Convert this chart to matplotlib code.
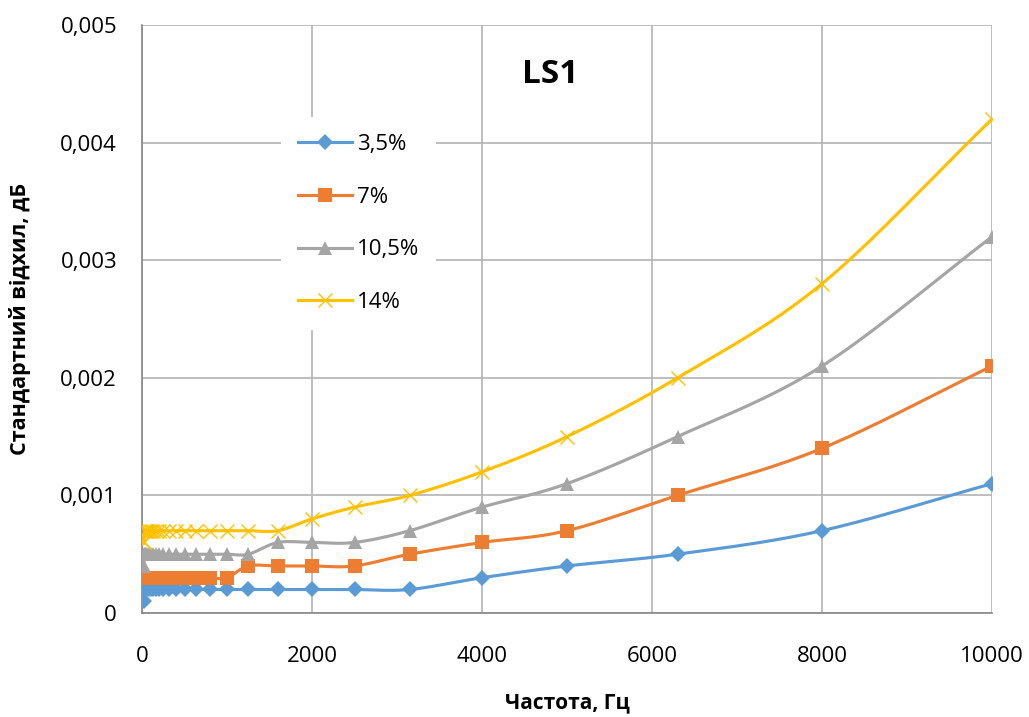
import numpy as np
import matplotlib
matplotlib.use("Agg")
import matplotlib.pyplot as plt

freqs = [20, 25, 31.5, 40, 50, 63, 80, 100, 125, 160, 200, 250, 315, 400, 500,
         630, 800, 1000, 1250, 1600, 2000, 2500, 3150, 4000, 5000, 6300, 8000, 10000]
s35 = [0.0001] + [0.0002] * 22 + [0.0003, 0.0004, 0.0005, 0.0007, 0.0011]
s7 = [0.0003] * 18 + [0.0004, 0.0004, 0.0004, 0.0004, 0.0005, 0.0006, 0.0007, 0.0010, 0.0014, 0.0021]
s105 = [0.0004] + [0.0005] * 18 + [0.0006, 0.0006, 0.0006, 0.0007, 0.0009, 0.0011, 0.0015, 0.0021, 0.0032]
s14 = [0.0006, 0.0006] + [0.0007] * 18 + [0.0008, 0.0009, 0.0010, 0.0012, 0.0015, 0.0020, 0.0028, 0.0042]
labels = ["3,5%", "7%", "10,5%", "14%"]
colors = ["#5B9BD5", "#ED7D31", "#A5A5A5", "#FFC000"]
markers = ["D", "s", "^", "x"]
msizes = [8, 10.5, 10, 10]
xticks = [0, 2000, 4000, 6000, 8000, 10000]
yticks = [0, 0.001, 0.002, 0.003, 0.004, 0.005]


def smooth(x, y, n=20):
    x = np.asarray(x, float)
    y = np.asarray(y, float)
    px = np.concatenate([[2 * x[0] - x[1]], x, [2 * x[-1] - x[-2]]])
    py = np.concatenate([[2 * y[0] - y[1]], y, [2 * y[-1] - y[-2]]])
    ox, oy = [], []
    t = np.linspace(0, 1, n)
    for i in range(1, len(px) - 2):
        p0, p1, p2, p3 = (np.array([px[j], py[j]]) for j in range(i - 1, i + 3))
        tn = 1 / 6
        c1 = p1 + (p2 - p0) * tn
        c2 = p2 - (p3 - p1) * tn
        b = ((1 - t) ** 3)[:, None] * p1 + (3 * (1 - t) ** 2 * t)[:, None] * c1 \
            + (3 * (1 - t) * t ** 2)[:, None] * c2 + (t ** 3)[:, None] * p2
        ox.extend(b[:, 0])
        oy.extend(b[:, 1])
    return ox, oy


plt.rcParams['font.family'] = ['Open Sans', 'DejaVu Sans']
fig = plt.figure(figsize=(10.29, 7.17), dpi=100)
ax = fig.add_axes([142 / 1029, 1 - 613 / 717, 850 / 1029, 588 / 717])

for ys, lab, c, m, ms in zip([s35, s7, s105, s14], labels, colors, markers, msizes):
    sx, sy = smooth(freqs, ys)
    ax.plot(sx, sy, color=c, lw=2.25, zorder=3)
    mew = 1.0 if m == 'x' else 0
    ax.plot(freqs, ys, linestyle='none', marker=m, color=c, ms=ms, mew=mew, zorder=4)
    ax.plot([], [], color=c, lw=2.25, marker=m, ms=ms, mew=mew, label=lab)

ax.set_xlim(0, 10000)
ax.set_ylim(0, 0.005)
ax.set_xticks(xticks)
ax.set_xticklabels([str(v) for v in xticks])
ax.set_yticks(yticks)
ax.set_yticklabels(["0"] + [f"{v:.3f}".replace('.', ',') for v in yticks[1:]])
ax.tick_params(axis='x', length=0, labelsize=16, pad=24)
ax.tick_params(axis='y', length=0, labelsize=16, pad=18)
ax.grid(True, color='#b3b3b3', lw=1.2)
ax.set_axisbelow(True)
for sp in ['top', 'right']:
    ax.spines[sp].set_visible(False)
for sp in ['left', 'bottom']:
    ax.spines[sp].set_color('#868686')
    ax.spines[sp].set_linewidth(1.2)

ax.set_xlabel("Частота, Гц", fontsize=15, fontweight='bold', va='center')
ax.xaxis.set_label_coords(0.5, (613 - 703) / 588)
ax.set_ylabel("Стандартний відхил, дБ", fontsize=15.5, fontweight='bold', va='center')
ax.yaxis.set_label_coords((20 - 142) / 850, 0.5)
ax.text(4800, 0.00458, "LS1", fontsize=24, fontweight='bold', ha='center', va='center')

leg = ax.legend(loc='upper left', bbox_to_anchor=((270 - 142) / 850, (613 - 106) / 588),
                frameon=True, fontsize=16, labelspacing=1.43, handlelength=2.45,
                handletextpad=0.2, borderpad=0.75, fancybox=False)
leg.get_frame().set_edgecolor('none')
leg.get_frame().set_facecolor('white')
leg.get_frame().set_alpha(1)

fig.savefig("out.png", dpi=100)
